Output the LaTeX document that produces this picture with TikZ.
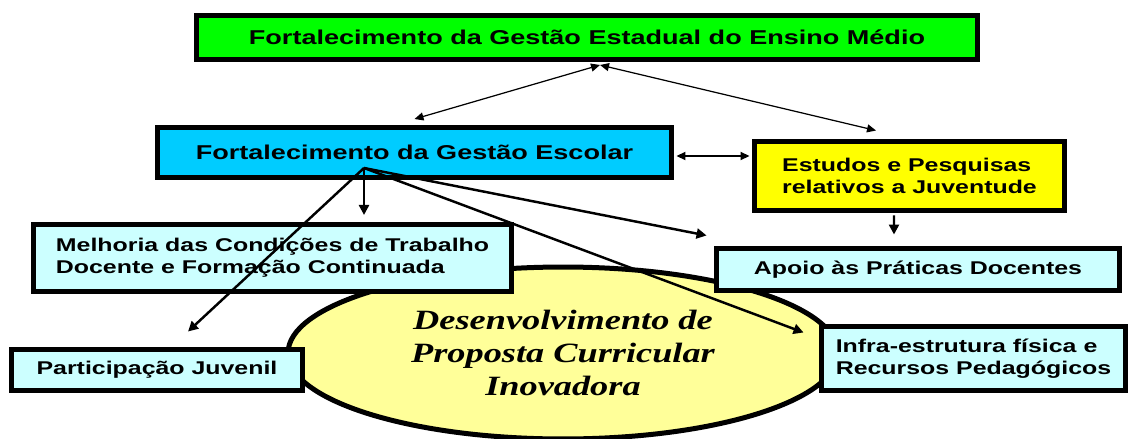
\documentclass[tikz,border=0pt]{standalone}
\usepackage{fontspec}
\usepackage{xcolor}
\usepackage{tikz}
\usetikzlibrary{shapes.geometric, arrows.meta}
\newfontfamily\boxfont[FakeStretch=1.35]{Liberation Sans}
\newfontfamily\ovalfont[FakeStretch=1.3]{Liberation Serif}
\definecolor{stategreen}{RGB}{0,255,0}
\definecolor{schoolblue}{RGB}{0,204,255}
\definecolor{youthyellow}{RGB}{255,255,0}
\definecolor{actioncyan}{RGB}{204,255,255}
\definecolor{ovalyellow}{RGB}{255,255,153}

\begin{document}
\begin{tikzpicture}[x=0.02cm, y=-0.02cm,
    box/.style={draw=black, line width=0.1cm, inner sep=0pt, align=left,
        font=\boxfont\bfseries\fontsize{10.5}{12.6}\selectfont},
    titlebox/.style={box, align=center,
        font=\boxfont\bfseries\fontsize{11.4}{13}\selectfont},
    thinlink/.style={line width=0.7pt,
        {Triangle[length=0.18cm,width=0.16cm]}-{Triangle[length=0.18cm,width=0.16cm]}},
    thicklink/.style={line width=1.4pt, -{Triangle[length=0.2cm,width=0.2cm]}}]
    \useasboundingbox (0,0) rectangle (1132,439);

    % Central oval
    \node[ellipse, draw=black, line width=0.1cm, fill=ovalyellow, inner sep=0pt,
        minimum width=11cm, minimum height=3.44cm, align=center,
        font=\ovalfont\bfseries\itshape\fontsize{15.9}{18.8}\selectfont]
        (oval) at (563,353) {Desenvolvimento de\\Proposta Curricular\\Inovadora};

    % Boxes
    \node[titlebox, fill=stategreen, minimum width=15.62cm, minimum height=0.88cm]
        (state) at (587,37.5) {Fortalecimento da Gestão Estadual do Ensino Médio};
    \node[titlebox, fill=schoolblue, minimum width=10.28cm, minimum height=1.0cm]
        (school) at (414.5,152.5) {Fortalecimento da Gestão Escolar};
    \node[box, fill=youthyellow, minimum width=6.2cm, minimum height=1.38cm]
        (youth) at (909.5,176) {Estudos e Pesquisas\\relativos a Juventude};
    \node[box, fill=actioncyan, minimum width=9.56cm, minimum height=1.34cm]
        (work) at (272.5,258) {Melhoria das Condições de Trabalho\\Docente e Formação Continuada};
    \node[box, fill=actioncyan, minimum width=5.82cm, minimum height=0.82cm]
        (part) at (157,370) {Participação Juvenil};
    \node[box, fill=actioncyan, minimum width=8.06cm, minimum height=0.84cm]
        (practice) at (918,269.5) {Apoio às Práticas Docentes};
    \node[box, fill=actioncyan, minimum width=6.08cm, minimum height=1.28cm]
        (infra) at (973.5,358.5) {Infra-estrutura física e\\Recursos Pedagógicos};

    % Links
    \coordinate (hub) at (364,168);
    \draw[thinlink] ([yshift=0.12cm]school.north) -- ([xshift=0.26cm,yshift=-0.06cm]state.south);
    \draw[thinlink] ([xshift=0.26cm,yshift=-0.06cm]state.south) -- ([xshift=-0.67cm,yshift=0.17cm]youth.north);
    \draw[thinlink, line width=1pt] ([xshift=0.05cm,yshift=-0.07cm]school.east) -- ([xshift=-0.05cm,yshift=0.4cm]youth.west);
    \draw[thicklink, shorten >=4pt] (hub) -- (hub |- work.north);
    \draw[thicklink] (hub) -- ([shift={(0.62cm,0.31cm)}]part.north);
    \draw[thicklink] (hub) -- ([shift={(-0.15cm,0.21cm)}]practice.north west);
    \draw[thicklink] (hub) -- ([shift={(-0.31cm,-0.17cm)}]infra.north west);
    \draw[thicklink] ([xshift=-0.31cm,yshift=-0.05cm]youth.south) -- ([shift={(-0.48cm,0.23cm)}]practice.north);
\end{tikzpicture}
\end{document}
